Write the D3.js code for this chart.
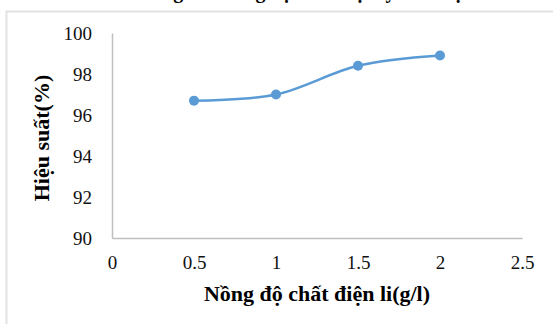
<!DOCTYPE html>
<html>
<head>
<meta charset="utf-8">
<script src="https://cdn.jsdelivr.net/npm/d3@7"></script>
<style>
  body { margin: 0; background: #fff; }
  svg { display: block; }
</style>
</head>
<body>
<div id="chart"></div>
<script>
// du lieu doc tu hinh
var nongDo = [0.5, 1, 1.5, 2];
var hieuSuat = [96.7, 97.0, 98.4, 98.9];
var xTicks = [0, 0.5, 1, 1.5, 2, 2.5];
var yTicks = [90, 92, 94, 96, 98, 100];

var width = 553, height = 324;
var serif = "'Liberation Serif', 'Times New Roman', serif";
var svg = d3.select("#chart").append("svg")
    .attr("width", width)
    .attr("height", height);

// khung ngoai
svg.append("rect")
    .attr("x", 6.5).attr("y", 11.5)
    .attr("width", 560).attr("height", 330)
    .attr("fill", "none")
    .attr("stroke", "#e2e2e2")
    .attr("stroke-width", 2);

// tieu de bi cat phia tren
svg.append("text")
    .attr("x", 300).attr("y", -2)
    .attr("text-anchor", "middle")
    .attr("font-family", serif)
    .attr("font-weight", "bold")
    .attr("font-size", 20)
    .text("Ảnh hưởng của nồng độ chất điện ly đến hiệu suất");

var x = d3.scaleLinear().domain([0, 2.5]).range([112, 522]);
var y = d3.scaleLinear().domain([90, 100]).range([238, 33]);

var xAxis = svg.append("g")
    .attr("transform", "translate(0,238)")
    .call(d3.axisBottom(x).tickValues(xTicks).tickSize(0).tickPadding(18)
        .tickFormat(function(d){ return d; }));
var yAxis = svg.append("g")
    .attr("transform", "translate(112,0)")
    .call(d3.axisLeft(y).tickValues(yTicks).tickSize(0).tickPadding(20));

[xAxis, yAxis].forEach(function(a){
    a.attr("font-family", serif).attr("font-size", 19);
    a.select(".domain").attr("stroke", "#bfbfbf").attr("stroke-width", 1.5);
    a.selectAll("text").attr("fill", "#111");
});

var pts = nongDo.map(function(d, i){ return [d, hieuSuat[i]]; });

var line = d3.line()
    .x(function(d){ return x(d[0]); })
    .y(function(d){ return y(d[1]); })
    .curve(d3.curveCatmullRom.alpha(0.5));

svg.append("path")
    .datum(pts)
    .attr("d", line)
    .attr("fill", "none")
    .attr("stroke", "#5b9bd5")
    .attr("stroke-width", 2.5);

svg.selectAll(".diem")
    .data(pts)
    .enter().append("circle")
    .attr("class", "diem")
    .attr("cx", function(d){ return x(d[0]); })
    .attr("cy", function(d){ return y(d[1]); })
    .attr("r", 5)
    .attr("fill", "#5b9bd5");

// ten truc
svg.append("text")
    .attr("x", 317).attr("y", 301)
    .attr("text-anchor", "middle")
    .attr("font-family", serif)
    .attr("font-weight", "bold")
    .attr("font-size", 22)
    .text("Nồng độ chất điện li(g/l)");

svg.append("text")
    .attr("transform", "translate(49,138) rotate(-90)")
    .attr("text-anchor", "middle")
    .attr("font-family", serif)
    .attr("font-weight", "bold")
    .attr("font-size", 22)
    .text("Hiệu suất(%)");
</script>
</body>
</html>
